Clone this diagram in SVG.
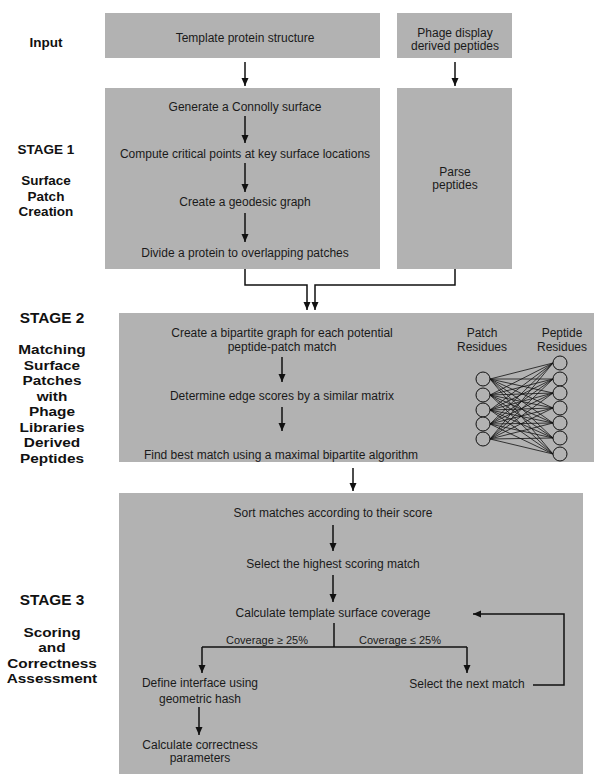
<svg xmlns="http://www.w3.org/2000/svg" width="594" height="774" viewBox="0 0 594 774">
<defs>
<style>
.box{fill:#b2b2b2;stroke:none}
.t{font-family:"Liberation Sans",Arial,sans-serif;font-size:12px;fill:#1a1a1a;text-anchor:middle}
.s{font-family:"Liberation Sans",Arial,sans-serif;font-size:11px;fill:#1a1a1a;text-anchor:middle}
.l1{font-family:"Liberation Sans",Arial,sans-serif;font-size:13.5px;font-weight:bold;fill:#111;text-anchor:middle}
.l2{font-family:"Liberation Sans",Arial,sans-serif;font-size:15.4px;font-weight:bold;fill:#111;text-anchor:middle}
.l3{font-family:"Liberation Sans",Arial,sans-serif;font-size:13.6px;font-weight:bold;fill:#111;text-anchor:middle}
.c{fill:none;stroke:#111;stroke-width:1.5}
.e{stroke:#111;stroke-width:0.8}
.n{fill:#b2b2b2;stroke:#111;stroke-width:1}
</style>
<marker id="ah" markerUnits="userSpaceOnUse" markerWidth="8" markerHeight="8" refX="8" refY="3.5" orient="auto">
<path d="M0,0 L8,3.5 L0,7 z" fill="#111"/>
</marker>
</defs>
<rect width="594" height="774" fill="#fff"/>

<g id="labels">
<text class="l1" x="46" y="47">Input</text>
<text class="l1" x="46" y="154">STAGE 1</text>
<text class="l1" x="46" y="185">Surface</text>
<text class="l1" x="46" y="201">Patch</text>
<text class="l1" x="46" y="216">Creation</text>
<text class="l2" x="52" y="323">STAGE 2</text>
<g transform="translate(52,0) scale(1.13,1) translate(-52,0)">
<text class="l3" x="52" y="354">Matching</text>
<text class="l3" x="52" y="370">Surface</text>
<text class="l3" x="52" y="385">Patches</text>
<text class="l3" x="52" y="401">with</text>
<text class="l3" x="52" y="416">Phage</text>
<text class="l3" x="52" y="432">Libraries</text>
<text class="l3" x="52" y="447">Derived</text>
<text class="l3" x="52" y="463">Peptides</text>
</g>
<text class="l2" x="52" y="605">STAGE 3</text>
<g transform="translate(52,0) scale(1.13,1) translate(-52,0)">
<text class="l3" x="52" y="637">Scoring</text>
<text class="l3" x="52" y="652">and</text>
<text class="l3" x="52" y="668">Correctness</text>
<text class="l3" x="52" y="683">Assessment</text>
</g>
</g>

<g id="input-template">
<rect class="box" x="105" y="13" width="275" height="45"/>
<text class="t" x="245" y="42">Template protein structure</text>
</g>
<g id="input-phage">
<rect class="box" x="397" y="13" width="115" height="45"/>
<text class="t" x="455" y="36.5">Phage display</text>
<text class="t" x="455" y="49.5">derived peptides</text>
</g>

<g id="stage1">
<rect class="box" x="105" y="88" width="275" height="181"/>
<text class="t" x="245" y="111">Generate a Connolly surface</text>
<text class="t" x="245" y="158">Compute critical points at key surface locations</text>
<text class="t" x="245" y="206">Create a geodesic graph</text>
<text class="t" x="245" y="257">Divide a protein to overlapping patches</text>
</g>
<g id="parse">
<rect class="box" x="397" y="88" width="115" height="181"/>
<text class="t" x="455" y="176">Parse</text>
<text class="t" x="455" y="189">peptides</text>
</g>

<g id="stage2">
<rect class="box" x="119" y="313" width="475" height="149"/>
<text class="t" x="282" y="337">Create a bipartite graph for each potential</text>
<text class="t" x="282" y="351">peptide-patch match</text>
<text class="t" x="282" y="400">Determine edge scores by a similar matrix</text>
<text class="t" x="281" y="459">Find best match using a maximal bipartite algorithm</text>
<text class="t" x="482" y="337">Patch</text>
<text class="t" x="482" y="351">Residues</text>
<text class="t" x="562" y="337">Peptide</text>
<text class="t" x="562" y="351">Residues</text>
</g>

<g id="bipartite">
<g id="bp-edges">
<path class="e" d="M490,379 L553,363 M490,379 L553,379 M490,379 L553,393 M490,379 L553,408 M490,379 L553,423 M490,379 L553,438 M490,379 L553,454
M490,395 L553,363 M490,395 L553,379 M490,395 L553,393 M490,395 L553,408 M490,395 L553,423 M490,395 L553,438 M490,395 L553,454
M490,410 L553,363 M490,410 L553,379 M490,410 L553,393 M490,410 L553,408 M490,410 L553,423 M490,410 L553,438 M490,410 L553,454
M490,424 L553,363 M490,424 L553,379 M490,424 L553,393 M490,424 L553,408 M490,424 L553,423 M490,424 L553,438 M490,424 L553,454
M490,439 L553,363 M490,439 L553,379 M490,439 L553,393 M490,439 L553,408 M490,439 L553,423 M490,439 L553,438 M490,439 L553,454"/>
</g>
<circle class="n" cx="483" cy="379" r="7"/>
<circle class="n" cx="483" cy="395" r="7"/>
<circle class="n" cx="483" cy="410" r="7"/>
<circle class="n" cx="483" cy="424" r="7"/>
<circle class="n" cx="483" cy="439" r="7"/>
<circle class="n" cx="560" cy="363" r="7"/>
<circle class="n" cx="560" cy="379" r="7"/>
<circle class="n" cx="560" cy="393" r="7"/>
<circle class="n" cx="560" cy="408" r="7"/>
<circle class="n" cx="560" cy="423" r="7"/>
<circle class="n" cx="560" cy="438" r="7"/>
<circle class="n" cx="560" cy="454" r="7"/>
</g>

<g id="stage3">
<rect class="box" x="119" y="493" width="464" height="281"/>
<text class="t" x="333" y="517">Sort matches according to their score</text>
<text class="t" x="333" y="568">Select the highest scoring match</text>
<text class="t" x="333" y="617">Calculate template surface coverage</text>
<text class="s" x="267" y="644">Coverage ≥ 25%</text>
<text class="s" x="400" y="644">Coverage ≤ 25%</text>
<text class="t" x="200" y="687">Define interface using</text>
<text class="t" x="200" y="703">geometric hash</text>
<text class="t" x="200" y="749">Calculate correctness</text>
<text class="t" x="200" y="762">parameters</text>
<text class="t" x="467" y="688">Select the next match</text>
</g>

<g id="connectors">
<line class="c" x1="245" y1="62" x2="245" y2="86" marker-end="url(#ah)"/>
<line class="c" x1="455" y1="62" x2="455" y2="86" marker-end="url(#ah)"/>
<line class="c" x1="245" y1="116" x2="245" y2="143" marker-end="url(#ah)"/>
<line class="c" x1="245" y1="163" x2="245" y2="192" marker-end="url(#ah)"/>
<line class="c" x1="245" y1="213" x2="245" y2="242" marker-end="url(#ah)"/>
<polyline class="c" points="245,269 245,285 307,285 307,310" marker-end="url(#ah)"/>
<polyline class="c" points="455,269 455,285 315,285 315,310" marker-end="url(#ah)"/>
<line class="c" x1="282" y1="357" x2="282" y2="382" marker-end="url(#ah)"/>
<line class="c" x1="282" y1="407" x2="282" y2="431" marker-end="url(#ah)"/>
<line class="c" x1="353" y1="468" x2="353" y2="491" marker-end="url(#ah)"/>
<line class="c" x1="333" y1="525" x2="333" y2="551" marker-end="url(#ah)"/>
<line class="c" x1="333" y1="575" x2="333" y2="602" marker-end="url(#ah)"/>
<line class="c" x1="334" y1="623" x2="334" y2="647"/>
<line class="c" x1="202" y1="647" x2="467" y2="647"/>
<line class="c" x1="202" y1="647" x2="202" y2="673" marker-end="url(#ah)"/>
<line class="c" x1="467" y1="647" x2="467" y2="673" marker-end="url(#ah)"/>
<line class="c" x1="199" y1="707" x2="199" y2="735" marker-end="url(#ah)"/>
<polyline class="c" points="533,685 564,685 564,614 473,614" marker-end="url(#ah)"/>
</g>
</svg>
